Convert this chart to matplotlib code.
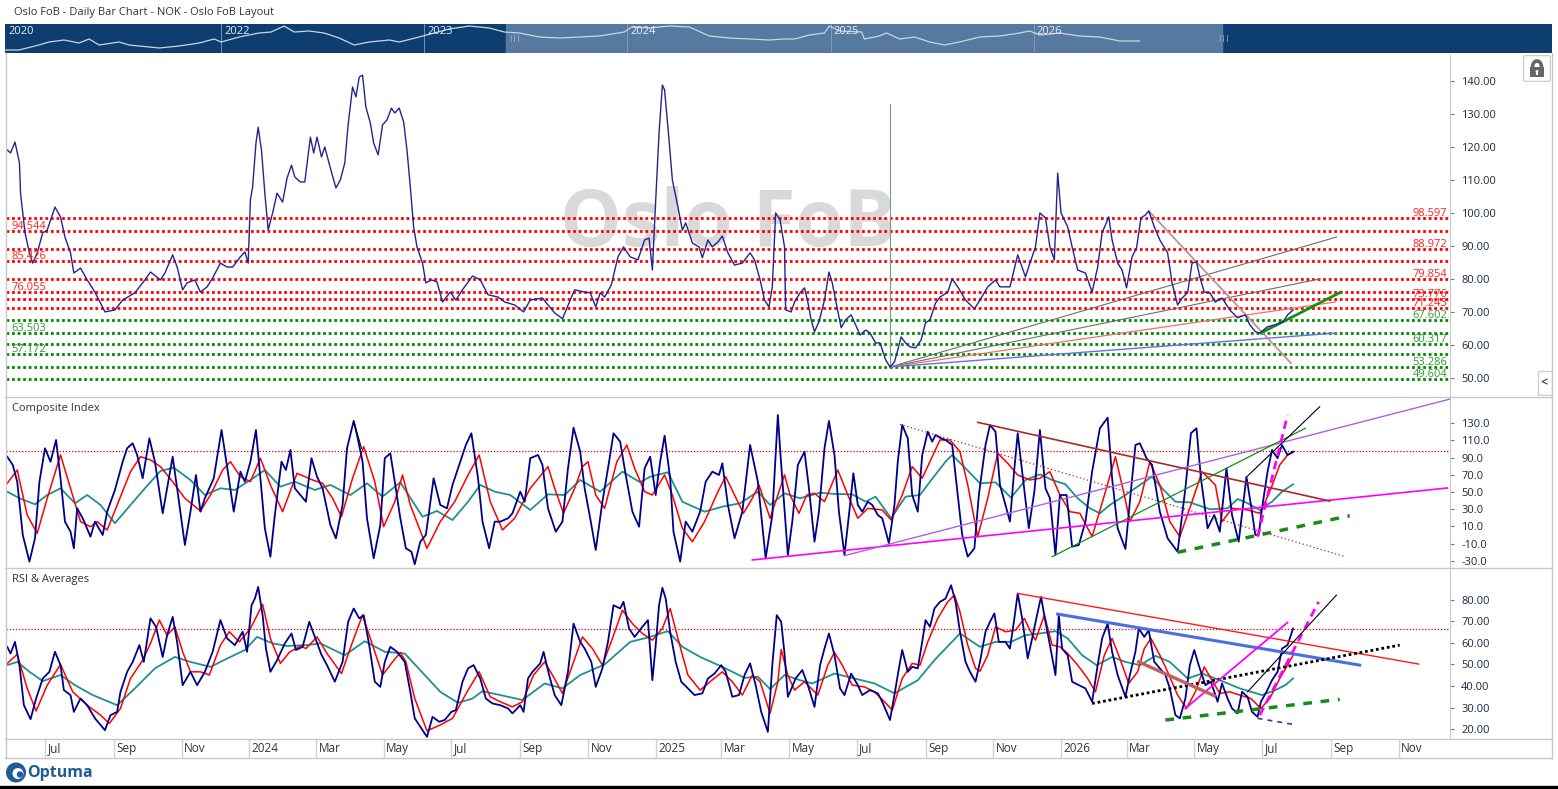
import numpy as np
import pandas as pd
import matplotlib
matplotlib.use("Agg")
import matplotlib.pyplot as plt
from matplotlib.patches import Rectangle, FancyBboxPatch, Circle, Arc
from matplotlib.lines import Line2D

plt.rcParams['font.family'] = ['Open Sans', 'DejaVu Sans']

W, H = 1558, 789
START = pd.Timestamp('2023-07-01')   # day 0 of the x axis

# ---------------- data (day offset from START, value) ----------------
PRICE = [(-34,119.1),(-31,118.2),(-27,121.5),(-23,115.2),(-22,106),(-18,94),(-14,87.9),(-11,84.8),(-7,87.9),(-2,94),
 (2,94.8),(9,101.8),(14,98.8),(18,92.7),(23,87.9),(26,81.8),(32,83.3),(38,79.7),(45,76),(54,70),(63,70.6),(70,73.6),
 (81,75.8),(90,79.7),(95,82.1),(104,79.7),(108,81.8),(115,87.3),(119,83.6),(124,76.7),(128,78.8),(135,79.7),(140,76),
 (146,77.6),(151,80.3),(158,84.8),(164,83.6),(169,83.6),(176,86.7),(180,88.2),(183,84.8),(185,104),(187,107.9),
 (190,121.2),(192,126),(195,119),(198,106),(201,94.8),(205,100),(209,106),(214,103.3),(218,110.6),(222,114.5),
 (225,110.9),(230,109.4),(234,109.4),(239,123),(242,118.2),(245,123),(249,117),(252,120),(257,113.6),(262,107.6),
 (266,110),(270,115.2),(273,126.7),(277,138.2),(280,135.2),(283,141.2),(286,141.8),(289,132.1),(293,127.3),
 (296,121.2),(300,117.6),(304,126.7),(308,128.2),(312,131.8),(315,130.3),(319,131.8),(323,127.6),(326,119.1),
 (329,107.9),(332,95.8),(335,89.7),(340,84.8),(343,78.8),(348,79.7),(353,79.1),(358,73),(365,76),(370,73.6),
 (376,76.7),(385,80.9),(392,79.7),(399,75.2),(408,74.5),(414,73),(423,72.1),(431,70),(437,73.6),(448,74.2),
 (453,72.1),(459,69.7),(466,67.9),(473,73.6),(477,76.7),(486,76),(491,75.8),(496,71.5),(500,75.8),(504,74.5),
 (510,78.2),(516,86.7),(521,89.7),(527,86.7),(534,85.8),(540,91.8),(544,92.4),(547,82.7),(550,103.9),(553,124.2),
 (556,138.8),(558,137.3),(562,122.1),(565,110),(570,101.8),(574,94.8),(577,97),(583,90.9),(589,89.7),(592,86.4),
 (597,91.8),(601,89.7),(606,91.2),(610,93),(615,87.9),(621,84.2),(628,84.8),(635,87.9),(639,85.8),(644,79.7),
 (648,73.6),(652,71.5),(655,77.6),(658,100),(662,97.9),(666,89.7),(667,70.6),(672,70),(675,73),(680,75.8),
 (684,77.3),(687,73),(690,67.6),(693,64),(697,67),(702,73.6),(706,82.1),(709,78.8),(712,73.6),(717,65.2),
 (721,67.6),(726,69.1),(730,66.1),(734,63),(739,64.5),(743,63.6),(748,60.6),(752,60.6),(757,55.5),(761,53.3),
 (765,54.8),(768,58.5),(771,62.4),(775,60.6),(779,59.4),(784,59.1),(789,61.5),(793,66.7),(797,67.6),(802,72.7),
 (806,74.5),(813,76),(817,80),(822,77.6),(829,73.6),(837,70.9),(842,73.6),(849,77.6),(856,79.7),(860,77.6),
 (869,77.6),(876,87.3),(883,80.6),(887,84.8),(892,89.7),(896,100),(901,98.5),(905,89.7),(909,85.8),(912,112.1),
 (915,100),(921,95.8),(925,89.7),(930,82.7),(937,81.8),(943,76),(948,83.6),(952,94),(958,98.8),(961,91.8),
 (966,84.8),(970,82.7),(974,77.3),(979,86.7),(983,89.4),(987,98.5),(991,99.4),(994,100.6),(999,95.8),(1004,91.8),
 (1011,87.9),(1015,78.8),(1020,72.1),(1024,74.2),(1029,75.8),(1033,84.8),(1037,85.2),(1040,80.6),(1044,76),
 (1049,75.8),(1054,73),(1060,74.2),(1067,70.6),(1074,68.2),(1081,69.1),(1085,66.1),(1090,64),(1094,63.6),
 (1101,65.5),(1108,66.1),(1115,67),(1119,69.1),(1124,70.6)]

COMP_BLUE = [(-34,91.1),(-29,81.5),(-25,62),(-20,0),(-14,-31),(-9,-3.9),(-5,62),(0,100.9),(5,85.3),(10,110.6),(14,66),
 (18,15.5),(23,3.8),(26,-15.5),(29,31),(34,19.4),(41,-2),(45,15.5),(52,0),(56,27.1),(63,52.4),(70,85.3),(74,101),
 (79,106.7),(83,93.1),(88,66),(94,112.5),(99,85.3),(106,25.2),(110,54.3),(115,91.1),(119,54.3),(126,-11.7),(131,27.1),
 (136,69.8),(140,27.1),(144,42.7),(152,66),(159,122.2),(164,79.5),(170,27.1),(176,73.7),(180,62),(185,85.3),
 (190,122.2),(194,66),(198,7.8),(203,-25.3),(207,23.2),(213,85.3),(217,75.6),(221,98.9),(225,54.3),(230,46.5),
 (235,38.7),(240,89.3),(245,67.8),(250,54.3),(257,11.6),(262,-3.9),(268,34.9),(272,100.9),(278,132.7),(281,116.4),
 (286,85.3),(290,19.4),(296,-27.2),(302,11.6),(306,89.3),(311,95.1),(315,62),(320,19.4),(325,-15.5),(330,-19.5),
 (333,-34.1),(338,-7.8),(343,0),(350,66),(356,34.9),(362,31),(367,58.2),(374,85.3),(379,104.7),(384,118.4),(390,66),
 (394,15.5),(400,-15.5),(405,15.5),(410,15.5),(417,19.4),(421,25.2),(428,50.4),(432,38.7),(437,89.3),(444,93.1),
 (448,81.5),(453,31),(460,3.8),(466,15.5),(471,77.6),(476,124.9),(482,97),(486,54.3),(491,19.4),(496,-17.5),
 (502,38.7),(508,85.3),(512,118.4),(518,108.6),(523,69.8),(529,27.1),(535,9.6),(540,77.6),(545,91.1),(550,46.5),
 (554,85.3),(558,115.6),(563,66),(566,3.8),(572,-31),(577,15.5),(583,3.8),(590,27.1),(595,62),(601,73.7),(607,69.8),
 (610,83.4),(615,34.9),(621,-3.9),(628,27.1),(635,104.7),(642,62),(649,-27.2),(655,23.2),(660,139.7),(662,100),
 (666,30),(669,-23.3),(673,15.5),(678,81.5),(684,97),(688,54.3),(693,-7.8),(697,27.1),(702,100.9),(706,132.7),
 (711,93.1),(715,27.1),(720,-23.3),(725,34.9),(728,71.8),(732,34.9),(736,27.1),(741,38.7),(745,34.9),(750,23.2),
 (754,19.4),(760,-9.7),(765,34.9),(768,85.3),(772,128),(777,112.5),(781,46.5),(786,27.1),(790,93.1),(795,120.2),
 (799,108.6),(802,116.4),(807,112.5),(811,110.6),(817,104.7),(822,46.5),(826,0),(831,-25.3),(837,-15.5),(841,46.5),
 (847,104.7),(851,128),(856,120.2),(860,58.2),(865,34.9),(869,15.5),(873,77.6),(876,118.4),(880,73.7),(886,7.8),
 (891,50.4),(896,122.2),(901,54.3),(905,42.7),(910,-23.3),(914,46.5),(920,46.5),(925,-13.6),(931,-11.7),(937,15.5),
 (943,73.7),(950,124.2),(957,136.5),(961,66),(966,7.8),(973,-16.3),(977,38.7),(982,104.7),(986,106.7),(992,89.3),
 (997,81.5),(1004,27.1),(1011,-3.9),(1020,-19.5),(1027,54.3),(1032,118.4),(1037,124.2),(1041,66),(1047,7.8),
 (1053,23.2),(1058,3.8),(1064,77.6),(1069,23.2),(1075,-7.8),(1082,67.8),(1086,34.9),(1090,0),(1093,0),(1096,31),
 (1101,73.7),(1105,98.9),(1110,89.3),(1114,104.7),(1119,93.1),(1124,97)]

COMP_RED = [(-34,60.1),(-25,75.6),(-16,23.2),(-7,1.9),(2,42.7),(14,93.1),(23,54.3),(32,15.5),(41,9.6),(47,15.5),(56,5.8),
 (65,34.9),(77,73.7),(86,91.1),(95,87.3),(104,79.5),(115,62),(126,42.7),(140,27.9),(149,46.5),(160,75.6),(167,85.3),
 (176,67.8),(185,62),(194,89.3),(203,58.2),(214,27.1),(227,71.8),(241,64),(250,60.1),(259,42.7),(267,21.3),(277,66),
 (287,102.8),(297,62),(305,9.6),(315,38.7),(322,69.8),(329,34.9),(344,-15.5),(356,15.5),(369,38.7),(381,69.8),
 (391,93.1),(401,38.7),(412,5.8),(423,19.4),(437,54.3),(453,79.5),(459,54.3),(467,25.2),(477,54.3),(484,79.5),
 (489,85.3),(496,46.5),(504,31),(515,85.3),(524,104.7),(531,77.6),(540,50.4),(547,46.5),(558,69.8),(565,46.5),
 (574,7.8),(583,-7.8),(594,15.5),(606,50.4),(613,67.8),(621,46.5),(629,25.2),(637,42.7),(643,58.2),(653,19.4),
 (660,46.5),(666,70),(671,46.5),(679,25.2),(686,46.5),(693,48.5),(702,38.7),(714,75.6),(723,46.5),(732,19.4),
 (741,31),(754,29.1),(762,17.4),(772,46.5),(781,79.5),(790,66),(799,91.1),(806,110.6),(815,110.6),(824,97),
 (831,58.2),(840,-2),(849,42.7),(858,95.1),(867,83.4),(876,69.8),(887,64),(896,66),(905,73.7),(914,46.5),(923,27.1),
 (932,25.2),(943,-2),(955,50.4),(964,91.1),(972,46.5),(977,15.5),(986,38.7),(995,85.3),(1004,58.2),(1013,15.5),
 (1022,-2),(1033,38.7),(1042,73.7),(1054,58.2),(1060,15.5),(1069,31),(1083,29.1),(1094,25.2),(1103,50.4),
 (1112,81.5),(1119,93.1),(1124,96.2)]

COMP_TEAL = [(-34,50.4),(-23,42.7),(-9,35.7),(2,46.5),(14,54.3),(27,36.9),(38,46.5),(50,34.9),(63,13.6),(77,34.9),
 (90,54.3),(104,74.5),(116,78.3),(131,64),(144,46.5),(158,54.3),(171,52.4),(185,64),(198,75.6),(212,56.2),(225,62),
 (243,52.4),(257,58.2),(275,46.5),(290,60.1),(304,44.6),(320,61.3),(340,21.3),(353,27.9),(367,17.4),(381,38.7),
 (392,58.2),(405,50.4),(419,46.5),(437,29.1),(453,47.3),(468,46.5),(482,64),(500,50.4),(520,73.7),(536,61.3),
 (545,67.8),(561,73),(574,38.7),(594,27.1),(610,32.9),(626,36.9),(642,50.4),(653,34.9),(666,48.5),(680,42.7),
 (698,49.2),(711,47.7),(727,47.3),(739,38.7),(748,44.6),(762,19.4),(775,44.6),(788,46.5),(797,62),(811,85.3),
 (817,93.1),(829,77.6),(842,60.1),(856,61.3),(870,43.4),(883,64),(896,70.6),(907,64),(919,59),(930,42.7),(941,31),
 (950,25.2),(959,34.9),(973,46.5),(986,58.2),(997,67.8),(1006,54.3),(1018,38.7),(1031,38),(1049,29.9),(1065,31),
 (1074,41.9),(1083,36.9),(1094,29.1),(1105,38.7),(1114,50.4),(1124,59)]

RSI_BLUE = [(-34,58.2),(-31,55.1),(-27,60.5),(-23,49.7),(-19,31.1),(-13,24.6),(-8,34.2),(-2,43.5),(4,46.6),(9,55.9),
 (14,49.7),(17,38.1),(23,35.8),(26,28),(32,34.2),(38,31.1),(45,25),(54,19.5),(59,26.5),(65,28),(68,37.3),(74,46.6),
 (79,51.2),(85,59),(89,51.2),(95,71.4),(100,67.5),(106,53.5),(110,63.6),(115,72.1),(119,60.5),(124,40.4),(131,46.6),
 (137,40.4),(144,46.6),(151,55.9),(158,70.6),(164,62.1),(171,59),(178,65.2),(182,55.9),(186,77.5),(189,80.6),
 (192,86),(196,72.9),(199,57.4),(203,46.6),(209,52),(216,59.8),(222,64.4),(226,56.7),(232,58.2),(238,69.8),
 (243,62.8),(249,54.5),(254,49.7),(261,42),(268,51.2),(273,69.8),(278,76),(283,71.4),(287,72.9),(292,59),(297,42),
 (302,39.6),(306,51.2),(311,58.2),(317,55.9),(324,51.2),(329,37.3),(333,25),(339,20.3),(344,16.4),(349,25.7),
 (355,23.4),(360,24.2),(366,28),(370,28.8),(376,42),(381,48.2),(386,49.7),(392,43.5),(397,34.2),(403,31.9),
 (410,31.1),(417,29.6),(421,27.3),(428,31.1),(431,28),(435,43.5),(439,46.6),(446,50.5),(449,55.9),(454,45.1),
 (459,35.8),(465,31.1),(471,46.6),(476,69),(482,60.5),(486,57.4),(492,51.2),(496,39.6),(502,48.2),(507,60.5),
 (512,77.5),(518,76),(521,79.1),(526,66.7),(531,62.8),(538,67.5),(543,70.6),(547,42.7),(550,59),(553,77.5),
 (556,85.6),(559,80.6),(563,65.2),(568,51.2),(573,42),(579,38.9),(585,35.8),(592,36.6),(597,43.5),(603,45.8),
 (609,49.7),(613,46.6),(619,35),(625,35.8),(630,45.1),(635,50.5),(640,40.4),(645,28),(651,18.7),(655,49.7),
 (659,72.9),(663,69.8),(666,55),(669,35),(671,37.3),(676,43.5),(682,47.4),(687,40.4),(693,30.3),(698,49.7),
 (702,57.4),(706,64.4),(711,54.3),(716,38.9),(720,35.8),(726,45.8),(732,40.4),(736,35.8),(743,38.1),(750,36.6),
 (754,32.7),(761,24.2),(766,38.9),(769,48.2),(772,56.7),(777,46.6),(781,48.9),(786,48.2),(790,60.5),(793,70.6),
 (797,67.5),(801,76),(806,79.1),(811,80.6),(816,86.8),(820,79.1),(824,65.2),(829,51.2),(833,46.6),(838,42),
 (842,51.2),(847,65.2),(851,69.8),(855,73.7),(859,60.5),(865,60.5),(869,57.4),(873,71.4),(876,83),(880,71.4),
 (885,52.8),(889,62.1),(894,74.4),(897,81.4),(901,69.8),(905,59),(910,45.1),(913,72.9),(916,57.4),(921,54.3),
 (925,42),(931,40.4),(937,38.9),(943,32.7),(948,49.7),(952,62.1),(957,69),(961,55.9),(966,45.1),(973,35),(977,45.1),
 (982,55.9),(985,66.7),(990,62.8),(994,65.9),(999,51.2),(1004,48.2),(1009,45.1),(1013,38.9),(1018,26.5),(1022,25),
 (1027,34.2),(1031,49.7),(1035,56.7),(1039,49.7),(1045,40.4),(1050,42),(1056,32.7),(1060,41.2),(1065,34.2),
 (1069,29.6),(1074,27.3),(1078,37.3),(1083,35),(1087,28),(1092,25.7),(1095,32.7),(1100,37.3),(1105,42.7),
 (1110,46.6),(1114,57.4),(1119,59),(1124,66.7)]

RSI_RED = [(-34,50.5),(-25,54.7),(-16,38.9),(-8,28.4),(2,40.4),(14,50),(25,37.3),(38,31.1),(50,26.5),(58,22.6),(68,29.6),
 (77,43.5),(88,52),(95,59.8),(103,70.6),(110,63.6),(117,67.5),(124,55.9),(131,46.6),(140,46.6),(148,45.1),(158,59),
 (166,65.2),(175,60.5),(185,66.7),(196,77.9),(203,62.1),(212,50.5),(220,55.6),(230,58.6),(235,57.4),(245,62.8),
 (254,55.1),(267,45.8),(277,60.5),(286,72.9),(295,59),(304,45.1),(313,51.2),(320,55.6),(325,51.2),(333,34.2),
 (344,19.2),(356,21.9),(367,25),(381,38.1),(391,46.6),(401,35),(410,32.7),(421,30.3),(430,32.7),(440,45.1),
 (450,51.2),(457,45.1),(466,36.6),(475,49.7),(484,62.8),(493,57.4),(502,49.7),(511,62.1),(520,75.2),(529,69),
 (538,64.4),(547,61.3),(556,66.7),(563,76),(570,62.1),(579,45.1),(590,38.1),(599,42),(610,46.6),(619,42),(628,35.8),
 (637,45.1),(644,42),(653,27.3),(660,42),(663,57),(669,45),(675,38.1),(684,42),(696,35.8),(705,49.7),(711,55.6),
 (718,49.7),(727,40.4),(738,39.6),(747,37.3),(756,32.7),(763,28.8),(772,43.5),(781,50.5),(788,49.7),(795,60.5),
 (804,71.4),(813,79.1),(819,82.2),(824,74.4),(831,59),(838,48.2),(842,46.9),(849,54.3),(856,67.5),(865,65.2),
 (874,65.9),(882,71.4),(887,65.9),(892,61.3),(900,72.9),(907,59),(914,58.2),(921,55.1),(930,49.7),(939,43.5),
 (946,37.3),(954,54.3),(961,62.1),(968,52.8),(976,41.2),(984,46.6),(990,57.4),(996,62.1),(1004,54.3),(1011,46.6),
 (1020,35.8),(1028,29.6),(1036,37.3),(1044,48.9),(1050,43.5),(1058,36.6),(1067,37.3),(1076,35.8),(1086,34.2),
 (1095,29.6),(1103,34.2),(1112,43.5),(1119,49.7),(1124,54.3)]

RSI_TEAL = [(-34,49.7),(-25,51.2),(-14,46.6),(-2,42.3),(14,45.1),(27,40.4),(43,35.8),(65,31.1),(81,38.9),(99,48.2),
 (117,53.5),(131,51.2),(149,48.9),(167,53.5),(180,56.7),(191,62.8),(205,59.8),(218,58.6),(236,59),(248,59.8),
 (270,54.3),(288,60.8),(306,55.9),(324,55.1),(342,45.1),(356,37.3),(372,32.2),(385,34.2),(394,37.6),(410,35.8),
 (430,33.5),(450,41.2),(466,38.9),(482,45.1),(504,50),(527,60.5),(545,62.8),(561,65.5),(574,58.2),(590,53.5),
 (610,48.9),(630,43.8),(642,44.3),(653,38.6),(666,45.1),(680,42.7),(691,41.2),(711,45.8),(729,43.5),(747,41.2),
 (765,36.6),(786,42.7),(801,52),(824,64.4),(842,58.2),(856,60.5),(870,60.5),(883,63.6),(896,64.4),(910,65.5),
 (921,62.1),(934,54.3),(947,49.7),(961,53.5),(973,51.2),(986,49.7),(1000,54),(1013,51.2),(1029,43.5),(1042,45.8),
 (1058,42.7),(1076,38.9),(1096,35.8),(1108,38.1),(1117,40.4),(1124,43.5)]

# navigator overview line (fractional year, height in the strip)
NAV_LINE = [(2020.936,3),(2021.005,3),(2021.103,8),(2021.153,11),(2021.227,13),(2021.300,10),(2021.350,14),
 (2021.399,8),(2021.498,11),(2021.547,8),(2021.645,6),(2021.695,5),(2021.793,7),(2021.892,10),(2021.966,14),
 (2022.0,11),(2022.089,16),(2022.187,20),(2022.246,21),(2022.310,27),(2022.360,21),(2022.433,22),(2022.507,20),
 (2022.581,15),(2022.655,8),(2022.729,11),(2022.828,13),(2022.877,11),(2022.975,16),(2023.049,20),(2023.123,24),
 (2023.222,27),(2023.320,25),(2023.394,21),(2023.468,20),(2023.567,16),(2023.665,15),(2023.764,16),(2023.862,17),
 (2023.985,21),(2024.020,26),(2024.108,25),(2024.207,27),(2024.305,26),(2024.404,17),(2024.502,15),(2024.601,14),
 (2024.700,13),(2024.768,14),(2024.823,14),(2024.897,18),(2024.970,20),(2024.995,27),(2025.044,22),(2025.153,21),
 (2025.167,14),(2025.241,17),(2025.276,20),(2025.340,14),(2025.414,16),(2025.488,11),(2025.562,8),(2025.635,11),
 (2025.734,16),(2025.833,17),(2025.931,20),(2025.980,22),(2026.030,18),(2026.128,20),(2026.227,17),(2026.325,16),
 (2026.424,12),(2026.522,12)]
NAV_YEARS = [2022, 2023, 2024, 2025, 2026]

RED_LEVELS = [98.597, 94.544, 88.972, 85.426, 79.854, 76.055, 73.776, 71.243]
GREEN_LEVELS = [67.602, 63.503, 60.317, 57.172, 53.286, 49.604]
LEFT_LABELLED = [94.544, 85.426, 76.055, 63.503, 57.172]
COMP_LEVEL = 98
RSI_LEVEL = 66.5

# trendlines: (day0, value0, day1, value1)
PRICE_LINES = [(761,133.0,761,53.3),(761,53.3,1163,92.7),(761,53.3,1148,80.0),(761,53.3,1162,73.0),
               (761,53.3,1163,63.6),(994,100.6,1122,54.5),(1095,63.6,1167,76.0)]
COMP_LINES = [(637,-29.1,1263,54.7),(720,-24.1,1268,159.1),(770,128.8,1171,-25.3),(840,131.1,1157,39.5),
              (907,-25.3,1135,124.2),(1083,68.6,1148,149.3),(1092,-2,1119,139.7),(1020,-20.2,1175,22.4),
              (278,132.7,285,100.9)]
RSI_LINES = [(876,83,1237,50.2),(912,73.4,1184,49.7),(943,31.9,1220,59),(1009,24.2,1166,33.8),
             (1027,29.6,1119,69.5),(985,51.2,1053,35.5),(1094,26.5,1147,79.1),(1083,37.3,1163,82.2),
             (1092,25,1124,22.2)]

# ---------------- styles ----------------
PRICE_STY = [dict(color='#78a078', lw=0.8), dict(color='#6e6e6e', lw=0.8), dict(color='#6e6e6e', lw=0.8),
             dict(color='#f07070', lw=0.9), dict(color='#6b6bf2', lw=1.0), dict(color='#c49090', lw=1.3),
             dict(color='#149014', lw=2.0)]
COMP_STY = [dict(color='#ff00ff', lw=1.2), dict(color='#b060e0', lw=1.0), dict(color='#a52a2a', lw=0.9, ls=(0, (1, 2))),
            dict(color='#a52a2a', lw=1.2), dict(color='#168c16', lw=0.9), dict(color='black', lw=0.8),
            dict(color='#ff00ff', lw=2.0, ls=(0, (3, 2))), dict(color='#168c16', lw=2.5, ls=(0, (2.5, 2.5))),
            dict(color='black', lw=0.8)]
RSI_STY = [dict(color='#ff1a1a', lw=1.0), dict(color='#4a6fe3', lw=2.2), dict(color='black', lw=2.0, ls=(0, (1, 1))),
           dict(color='#168c16', lw=2.5, ls=(0, (2.5, 2.5))), dict(color='#ff00ff', lw=1.3),
           dict(color='#c06060', lw=2.4), dict(color='#ff00ff', lw=2.0, ls=(0, (3, 2))), dict(color='black', lw=0.8),
           dict(color='#5a2a8a', lw=1.2, ls=(0, (3, 3)))]

XLIM = (-35.1, 1265.3)
TXT = '#333333'
GRID = '#c8c8c8'


def box(x0, y0, x1, y1):
    return [x0 / W, 1 - y1 / H, (x1 - x0) / W, (y1 - y0) / H]


def xy(pairs):
    a = np.array(pairs, dtype=float)
    return a[:, 0], a[:, 1]


def fig_line(xs, ys, color=GRID, lw=1.0):
    fig.add_artist(Line2D([x / W for x in xs], [1 - y / H for y in ys], color=color, lw=lw))


fig = plt.figure(figsize=(W / 100, H / 100), dpi=100)
fig.patch.set_facecolor('white')

fig.text(14 / W, 1 - 12 / H, 'Oslo FoB - Daily Bar Chart - NOK - Oslo FoB Layout', fontsize=8, color=TXT, va='center')

# --- navigator strip ---
NX0, NX1 = 2020.936, 2028.552
ax_n = fig.add_axes(box(5, 24, 1552, 53))
ax_n.set_xlim(NX0, NX1)
ax_n.set_ylim(0, 29)
ax_n.axis('off')
ax_n.add_patch(Rectangle((NX0, 0), NX1 - NX0, 29, color='#0d3e6f', zorder=0))
ax_n.add_patch(Rectangle((2023.404, 0), 2026.926 - 2023.404, 29, color='#56799f', zorder=1))
for yr in NAV_YEARS:
    ax_n.axvline(yr, color='#86a0bf', lw=0.6, zorder=2)
    ax_n.text(yr + 0.015, 27.5, str(yr), fontsize=8, color='#e8eef5', va='top', zorder=4)
ax_n.text(NX0 + 0.015, 27.5, '2020', fontsize=8, color='#e8eef5', va='top', zorder=4)
nx, ny = xy(NAV_LINE)
ax_n.plot(nx, ny, color='#c9d6e5', lw=0.9, zorder=3)
for g in (2023.404, 2026.892):
    ax_n.text(g + 0.01, 14.5, '|||', fontsize=5.5, color='#c9d6e5', va='center', zorder=4)

# --- main panels ---
ax_p = fig.add_axes(box(6, 55, 1450, 396))
ax_c = fig.add_axes(box(6, 397, 1450, 567))
ax_r = fig.add_axes(box(6, 568, 1450, 739))
panels = [(ax_p, (44.5, 147.9), np.arange(50, 141, 10), '{:.2f}'),
          (ax_c, (-37.3, 160.6), np.arange(-30, 131, 20), '{:.1f}'),
          (ax_r, (15.4, 94.8), np.arange(20, 81, 10), '{:.2f}')]
for ax, ylim, ticks, fmt in panels:
    ax.set_xlim(XLIM)
    ax.set_ylim(ylim)
    ax.set_facecolor('none')
    for s in ('top', 'left', 'bottom'):
        ax.spines[s].set_visible(False)
    ax.spines['right'].set_color(GRID)
    ax.set_xticks([])
    ax.yaxis.tick_right()
    ax.set_yticks(ticks)
    ax.set_yticklabels([fmt.format(t) for t in ticks])
    ax.tick_params(axis='y', length=3, width=0.8, color='#777777', labelsize=8, labelcolor='#1c2846', pad=5)

# price panel
ax_p.text(0.5, 0.50, 'Oslo FoB', transform=ax_p.transAxes, ha='center', va='center', fontsize=56,
          fontweight='bold', color='#d9d9d9', zorder=0)
for lv in RED_LEVELS + GREEN_LEVELS:
    col = '#ff0000' if lv in RED_LEVELS else '#008a00'
    tcol = '#ff2020' if lv in RED_LEVELS else '#2e9a2e'
    ax_p.axhline(lv, color=col, lw=2.0, ls=(0, (1, 1)), zorder=1)
    if lv in LEFT_LABELLED:
        ax_p.annotate(f'{lv:.3f}', xy=(0.0035, lv), xycoords=('axes fraction', 'data'), xytext=(0, 3.3),
                      textcoords='offset points', ha='left', va='center', fontsize=8, color=tcol, zorder=5)
    else:
        ax_p.annotate(f'{lv:.3f}', xy=(0.998, lv), xycoords=('axes fraction', 'data'), xytext=(0, 3.3),
                      textcoords='offset points', ha='right', va='center', fontsize=8, color=tcol, zorder=5)
for ln, st in zip(PRICE_LINES, PRICE_STY):
    ax_p.plot([ln[0], ln[2]], [ln[1], ln[3]], zorder=2, **st)
px_, py_ = xy(PRICE)
ax_p.plot(px_, py_, color='#24248f', lw=1.0, zorder=3)

# composite index
ax_c.axhline(COMP_LEVEL, color='#d40000', lw=0.9, ls=(0, (1, 1.5)), zorder=1)
for data, col, lw in ((COMP_TEAL, '#1f9090', 1.3), (COMP_RED, '#ff0000', 1.1), (COMP_BLUE, '#00008b', 1.3)):
    x, y = xy(data)
    ax_c.plot(x, y, color=col, lw=lw, zorder=2)
for ln, st in zip(COMP_LINES, COMP_STY):
    ax_c.plot([ln[0], ln[2]], [ln[1], ln[3]], zorder=4, **st)
ax_c.text(0.004, 0.93, 'Composite Index', transform=ax_c.transAxes, fontsize=8, color=TXT, va='center')

# RSI & averages
ax_r.axhline(RSI_LEVEL, color='#e00000', lw=0.9, ls=(0, (1, 1.5)), zorder=1)
for data, col, lw in ((RSI_TEAL, '#1f9090', 1.3), (RSI_RED, '#ff0000', 1.1), (RSI_BLUE, '#00008b', 1.3)):
    x, y = xy(data)
    ax_r.plot(x, y, color=col, lw=lw, zorder=2)
for ln, st in zip(RSI_LINES, RSI_STY):
    ax_r.plot([ln[0], ln[2]], [ln[1], ln[3]], zorder=4, **st)
ax_r.text(0.004, 0.93, 'RSI & Averages', transform=ax_r.transAxes, fontsize=8, color=TXT, va='center')

# date band
ax_d = fig.add_axes(box(6, 739, 1450, 758))
ax_d.set_xlim(XLIM)
ax_d.set_ylim(0, 1)
ax_d.axis('off')
months = pd.date_range('2023-07-01', '2026-11-01', freq='2MS')
for m in months:
    d = (m - START).days
    lab = str(m.year) if m.month == 1 else m.strftime('%b')
    ax_d.axvline(d, color='#d2d2d2', lw=1)
    ax_d.text(d + 2.3, 0.5, lab, fontsize=8.5, color=TXT, va='center', ha='left')

# frame lines
for yy in (396.5, 567.5, 739, 758):
    fig_line([5, 1552], [yy, yy])
fig_line([5.5, 5.5], [53, 758])
fig_line([1552, 1552], [53, 758])

# lock button
ax_l = fig.add_axes(box(1523, 55, 1551, 82))
ax_l.set_xlim(0, 28)
ax_l.set_ylim(0, 27)
ax_l.axis('off')
ax_l.add_patch(FancyBboxPatch((0.6, 0.6), 26.8, 25.8, boxstyle='round,pad=0,rounding_size=2',
                              fc='white', ec='#cfcfcf', lw=1))
ax_l.add_patch(Rectangle((7, 5), 14, 10, fc='#666666', ec='none'))
ax_l.add_patch(Arc((14, 15), 9, 12, theta1=0, theta2=180, lw=2.6, color='#666666'))
ax_l.add_patch(Circle((14, 10.5), 1.4, fc='white', ec='none'))
ax_l.add_patch(Rectangle((13.4, 7.3), 1.2, 3, fc='white', ec='none'))

# collapse tab
ax_t = fig.add_axes(box(1537, 370, 1552, 396))
ax_t.set_xlim(0, 1)
ax_t.set_ylim(0, 1)
ax_t.axis('off')
ax_t.add_patch(Rectangle((0.05, 0.02), 0.95, 0.96, fc='white', ec='#cfcfcf', lw=1))
ax_t.text(0.5, 0.5, '<', ha='center', va='center', fontsize=9, fontweight='bold', color='#555555')

# Optuma logo
ax_o = fig.add_axes(box(5, 762, 27, 783))
ax_o.set_xlim(0, 22)
ax_o.set_ylim(0, 21)
ax_o.axis('off')
ax_o.add_patch(Circle((11, 10.5), 10, fc='#1f5d99', ec='none'))
ax_o.add_patch(Circle((13, 9.5), 5.5, fc='white', ec='none'))
ax_o.add_patch(Circle((15, 8.5), 3.2, fc='#1f5d99', ec='none'))
fig.text(27 / W, 1 - 773 / H, 'Optuma', fontsize=11.5, fontweight='bold', color='#1f5d99', va='center')

fig.add_artist(Rectangle((0, 0), 1, 3.5 / H, transform=fig.transFigure, color='black'))

fig.savefig('out.png', dpi=100)
